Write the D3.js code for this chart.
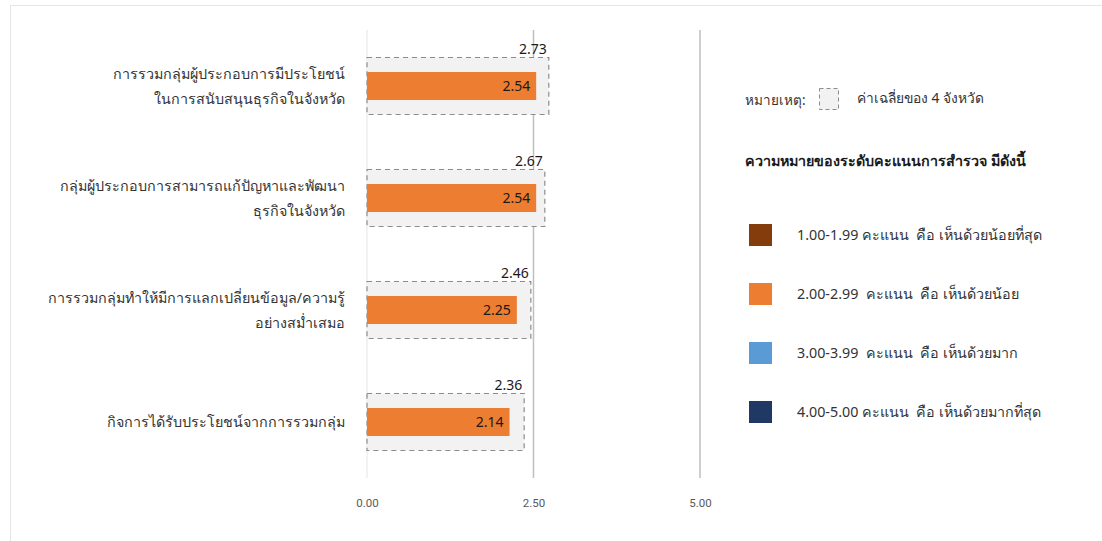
<!DOCTYPE html>
<html><head><meta charset="utf-8">
<script src="https://cdn.jsdelivr.net/npm/d3@7"></script>
<style>
html,body{margin:0;padding:0;background:#fff;}
svg{display:block;font-family:"Noto Sans","Open Sans",sans-serif;}
</style></head><body>
<svg id="chart" width="1102" height="541"></svg>
<script>
const categories = [
  ["การรวมกลุ่มผู้ประกอบการมีประโยชน์","ในการสนับสนุนธุรกิจในจังหวัด"],
  ["กลุ่มผู้ประกอบการสามารถแก้ปัญหาและพัฒนา","ธุรกิจในจังหวัด"],
  ["การรวมกลุ่มทำให้มีการแลกเปลี่ยนข้อมูล/ความรู้","อย่างสม่ำเสมอ"],
  ["กิจการได้รับประโยชน์จากการรวมกลุ่ม"]
];
const scores = [2.54, 2.54, 2.25, 2.14];
const averages = [2.73, 2.67, 2.46, 2.36];
const tickValues = [0, 2.5, 5];
const legendLabels = [
  "1.00-1.99 คะแนน  คือ เห็นด้วยน้อยที่สุด",
  "2.00-2.99  คะแนน  คือ เห็นด้วยน้อย",
  "3.00-3.99  คะแนน  คือ เห็นด้วยมาก",
  "4.00-5.00 คะแนน  คือ เห็นด้วยมากที่สุด"
];
const legendColors = ["#843C0C","#ED7D31","#5B9BD5","#1F3864"];

const svg = d3.select("#chart");
// card border
svg.append("rect").attr("x",10.5).attr("y",5.5).attr("width",1100).attr("height",540)
  .attr("fill","#fff").attr("stroke","#e6e6e6");

const x = d3.scaleLinear().domain([0,5]).range([367,700]);
const y = d3.scaleBand().domain(d3.range(categories.length)).range([30,478]);

// gridlines
svg.append("g").selectAll("line").data(tickValues).join("line")
  .attr("x1",d=>x(d)).attr("x2",d=>x(d)).attr("y1",30).attr("y2",478)
  .attr("stroke",d=>d===0?"#eeeeee":"#bfbfbf").attr("stroke-width",1.5);

// axis tick labels
const axis = d3.axisBottom(x).tickValues(tickValues).tickFormat(d3.format(".2f")).tickSize(0).tickPadding(0);
const ag = svg.append("g").attr("transform","translate(0,499)").call(axis);
ag.select(".domain").remove();
ag.selectAll("text").attr("font-size",11.5).attr("fill","#595959").attr("font-family","Roboto, sans-serif");

const rows = svg.append("g").selectAll("g").data(categories).join("g");
const bw = y.bandwidth();
// average dashed boxes
rows.append("rect")
  .attr("x",x(0)).attr("y",(d,i)=>y(i)+bw/2-28.5)
  .attr("width",(d,i)=>x(averages[i])-x(0)).attr("height",57)
  .attr("fill","#f2f2f2").attr("stroke","#8c8c8c").attr("stroke-width",1.2)
  .attr("stroke-dasharray","5,4");
// bars
rows.append("rect")
  .attr("x",x(0)).attr("y",(d,i)=>y(i)+bw/2-14)
  .attr("width",(d,i)=>x(scores[i])-x(0)).attr("height",28)
  .attr("fill","#ED7D31");
// value labels
rows.append("text")
  .attr("x",(d,i)=>x(scores[i])-6).attr("y",(d,i)=>y(i)+bw/2+5)
  .attr("text-anchor","end").attr("font-size",14).attr("fill","#1a1a1a")
  .text((d,i)=>scores[i].toFixed(2));
// average labels
rows.append("text")
  .attr("x",(d,i)=>x(averages[i])-2).attr("y",(d,i)=>y(i)+bw/2-32)
  .attr("text-anchor","end").attr("font-size",14).attr("fill","#1a1a1a")
  .text((d,i)=>averages[i].toFixed(2));
// category labels
rows.each(function(lines,i){
  const g = d3.select(this);
  const cy = y(i)+bw/2;
  const n = lines.length;
  lines.forEach((t,k)=>{
    g.append("text").attr("x",345)
      .attr("y",cy + (k-(n-1)/2)*25 + 5)
      .attr("text-anchor","end").attr("font-size",14.3).attr("fill","#333333")
      .text(t);
  });
});

// legend
const lg = svg.append("g");
lg.append("text").attr("x",745).attr("y",105).attr("font-size",13.5).attr("fill","#333333").text("หมายเหตุ:");
lg.append("rect").attr("x",819.5).attr("y",88.5).attr("width",19).attr("height",21)
  .attr("fill","#f2f2f2").attr("stroke","#8c8c8c").attr("stroke-dasharray","4,3");
lg.append("text").attr("x",857).attr("y",103).attr("font-size",13.8).attr("fill","#333333").text("ค่าเฉลี่ยของ 4 จังหวัด");
lg.append("text").attr("x",745).attr("y",166).attr("font-size",14.3).attr("font-weight","bold").attr("fill","#1a1a1a")
  .text("ความหมายของระดับคะแนนการสำรวจ มีดังนี้");
const items = lg.selectAll("g.item").data(legendLabels).join("g").attr("class","item")
  .attr("transform",(d,i)=>`translate(749,${235+i*59})`);
items.append("rect").attr("x",0).attr("y",-11).attr("width",23).attr("height",22)
  .attr("fill",(d,i)=>legendColors[i]);
items.append("text").attr("x",48).attr("y",5).attr("font-size",14.3).attr("fill","#333333")
  .attr("xml:space","preserve").style("white-space","pre").text(d=>d);
</script>
</body></html>
